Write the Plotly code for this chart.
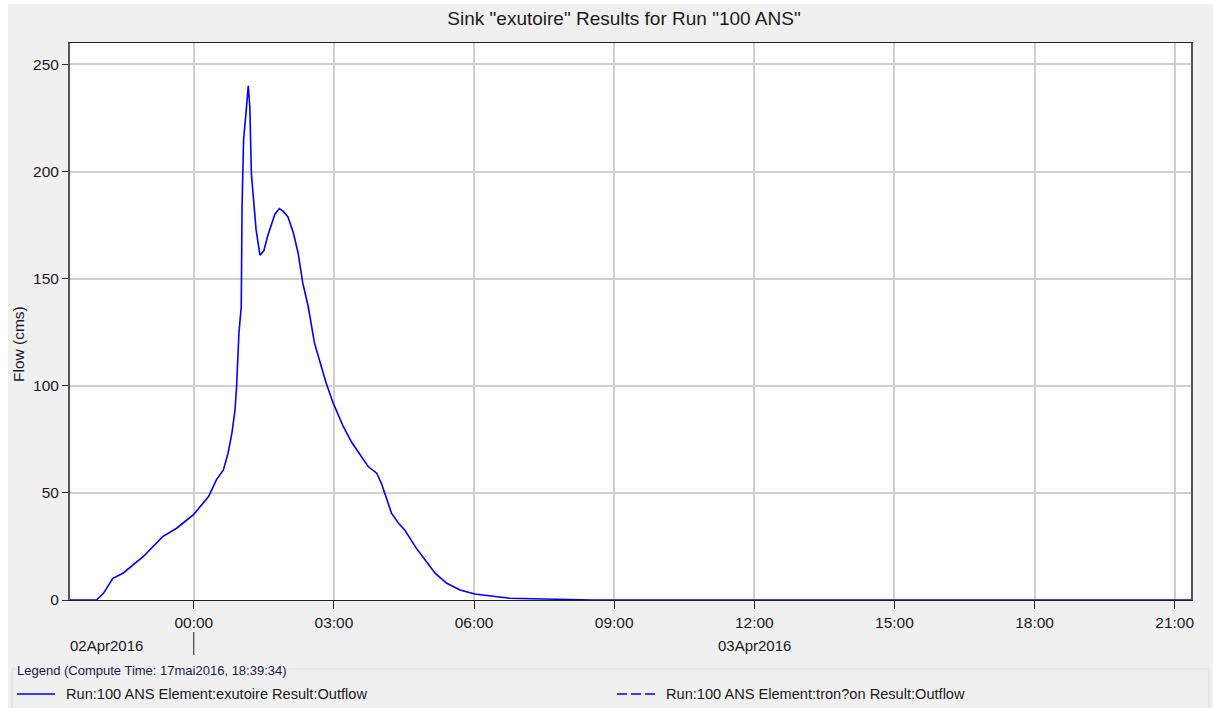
import pandas as pd
import plotly.graph_objects as go

# ---- data ----
# minutes relative to 03Apr2016 00:00
time_minutes = [-159, -125, -116, -104, -91, -65, -40, -22, 0, 19, 29, 38, 44, 49, 53, 55, 58,
                61, 62, 64, 67, 70, 72, 74, 80, 85, 90, 95, 104, 110, 115, 121, 128, 134, 140,
                147, 155, 170, 179, 192, 203, 211, 224, 235, 241, 254, 263, 271, 286, 299, 310,
                325, 342, 361, 380, 406, 450, 509, 513, 1281]
flow_cms = [0, 0, 3.1, 10.1, 12.5, 20.2, 29.6, 33.5, 40.0, 48.3, 56.1, 60.7, 68.5, 77.9, 88.8, 99.7, 124.6,
            137, 183.8, 215, 227, 240, 230, 199, 173, 161, 163, 170, 180, 182.7, 181.4, 178.8, 171.3, 162, 148,
            137, 120, 101.3, 92, 81, 73.5, 69.3, 62.3, 59.2, 54.5, 40.5, 35.8, 32.7, 24.1, 17.9, 12.5,
            7.8, 4.7, 2.8, 1.9, 0.8, 0.5, 0.3, 0, 0]
series_names = ["Run:100 ANS Element:exutoire Result:Outflow",
                "Run:100 ANS Element:tron?on Result:Outflow"]
series_dash = ["solid", "10px,4px"]
y_ticks = [0, 50, 100, 150, 200, 250]
day_labels = ["02Apr2016", "03Apr2016"]
title_text = 'Sink "exutoire" Results for Run "100 ANS"'
y_title = "Flow (cms)"
legend_title = "Legend (Compute Time: 17mai2016, 18:39:34)"

base = pd.Timestamp("2016-04-03 00:00")
times = base + pd.to_timedelta(time_minutes, unit="min")
x_start = base - pd.Timedelta(minutes=159)
x_end = base + pd.Timedelta(minutes=1281)

W, H = 1213, 708
L, R, T, B = 70, 22, 43, 108
PW, PH = W - L - R, H - T - B


def px_x(px):
    return (px - L) / PW


def px_y(py):
    return (H - B - py) / PH


FONT = "Liberation Sans, Arial, sans-serif"
BLUE = "#0000ff"
TXT = "#1a1a1a"

fig = go.Figure()
fig.add_trace(go.Scatter(x=times, y=flow_cms, mode="lines", name=series_names[0],
                         line=dict(color=BLUE, width=1.6), showlegend=False))

shapes = [
    # white outer margin strips
    dict(type="rect", xref="paper", yref="paper", x0=px_x(0), x1=px_x(8), y0=px_y(0), y1=px_y(H),
         fillcolor="white", line=dict(width=0), layer="below"),
    dict(type="rect", xref="paper", yref="paper", x0=px_x(0), x1=px_x(W), y0=px_y(0), y1=px_y(4),
         fillcolor="white", line=dict(width=0), layer="below"),
    # legend group box
    dict(type="rect", xref="paper", yref="paper", x0=px_x(12), x1=px_x(1209), y0=px_y(669), y1=px_y(715),
         line=dict(color="#d5dde3", width=1), fillcolor="rgba(0,0,0,0)", layer="below"),
    # day separator tick at 00:00
    dict(type="line", xref="x", yref="paper", x0=base, x1=base, y0=px_y(632), y1=px_y(655),
         line=dict(color="#202020", width=1)),
]

annotations = [
    dict(text=day_labels[0], xref="paper", yref="paper", x=px_x(106), y=px_y(645),
         xanchor="center", yanchor="middle", showarrow=False, font=dict(size=15, color=TXT)),
    dict(text=day_labels[1], xref="x", yref="paper", x=base + pd.Timedelta(hours=12), y=px_y(645),
         xanchor="center", yanchor="middle", showarrow=False, font=dict(size=15, color=TXT)),
    dict(text=y_title, xref="paper", yref="paper", x=px_x(18), y=px_y(344), textangle=-90,
         xanchor="center", yanchor="middle", showarrow=False, font=dict(size=15.5, color=TXT)),
    dict(text=legend_title, xref="paper", yref="paper", x=px_x(15), y=px_y(670),
         xanchor="left", yanchor="middle", showarrow=False, bgcolor="#f0f0f0",
         font=dict(size=13, color="#1a1a48"), borderpad=1),
]

# legend entries (line sample + label)
legend_x = [17, 617]
for i, name in enumerate(series_names):
    x0 = legend_x[i]
    shapes.append(dict(type="line", xref="paper", yref="paper", x0=px_x(x0), x1=px_x(x0 + 38),
                       y0=px_y(694), y1=px_y(694),
                       line=dict(color=BLUE, width=1.6, dash=series_dash[i])))
    annotations.append(dict(text=name, xref="paper", yref="paper", x=px_x(x0 + 47), y=px_y(694),
                            xanchor="left", yanchor="middle", showarrow=False,
                            font=dict(size=14.6, color=TXT)))

fig.update_layout(
    width=W, height=H, autosize=False,
    margin=dict(l=L, r=R, t=T, b=B, pad=0),
    paper_bgcolor="#f0f0f0", plot_bgcolor="white",
    font=dict(family=FONT, size=15, color=TXT),
    title=dict(text=title_text, x=624 / W, xref="container", xanchor="center",
               y=1 - 18 / H, yref="container", yanchor="middle",
               font=dict(size=19, color=TXT)),
    xaxis=dict(type="date", range=[x_start, x_end], tickformat="%H:%M",
               tick0=base, dtick=3 * 3600 * 1000, ticks="outside", ticklen=8, tickcolor="#202020",
               showgrid=True, gridcolor="#d0d0d0", gridwidth=1.5,
               showline=True, linecolor="#202020", linewidth=1, mirror=True,
               zeroline=False, layer="below traces", tickfont=dict(size=15.5)),
    yaxis=dict(range=[0, 260], tickvals=y_ticks, ticks="outside", ticklen=6, tickcolor="#303030",
               showgrid=True, gridcolor="#d0d0d0", gridwidth=1.5,
               showline=True, linecolor="#555555", linewidth=2, mirror=True,
               zeroline=False, layer="below traces", tickfont=dict(size=15.5)),
    showlegend=False,
    shapes=shapes,
    annotations=annotations,
)

fig.write_html("out.html")
